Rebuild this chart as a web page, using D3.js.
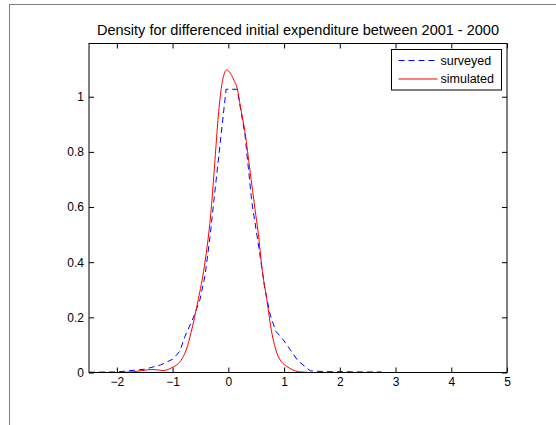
<!DOCTYPE html>
<html>
<head>
<meta charset="utf-8">
<script src="https://cdn.jsdelivr.net/npm/d3@7"></script>
<style>
  body { margin: 0; background: #fff; }
  text { font-family: "Liberation Sans", Arial, sans-serif; fill: #000; }
</style>
</head>
<body>
<script>
const W = 556, H = 425;
const margin = { left: 89, right: 49, top: 43.5, bottom: 52.5 };

const titleText = "Density for differenced initial expenditure between 2001 - 2000";
const xTicks = [-2, -1, 0, 1, 2, 3, 4, 5];
const yTicks = [0, 0.2, 0.4, 0.6, 0.8, 1];
const seriesNames = ["surveyed", "simulated"];

// surveyed (blue dashed)
const surveyedX = [-2.5, -2.0, -1.8, -1.5, -1.22, -1.0, -0.87, -0.78, -0.63, -0.51, -0.42, -0.33, -0.25, -0.04,
                   0.16, 0.3, 0.42, 0.55, 0.65, 0.75, 0.85, 1.0, 1.11, 1.25, 1.47, 1.75, 2.0, 2.4, 2.75];
const surveyedY = [0.001, 0.002, 0.006, 0.012, 0.027, 0.048, 0.077, 0.13, 0.198, 0.264, 0.349, 0.49, 0.64, 1.027,
                   1.027, 0.86, 0.62, 0.45, 0.31, 0.21, 0.15, 0.115, 0.083, 0.042, 0.006, 0.003, 0.003, 0.002, 0.002];

// simulated (red solid)
const simulatedX = [-1.97, -1.7, -1.5, -1.37, -1.25, -1.17, -1.05, -0.97, -0.9, -0.83, -0.75, -0.67, -0.54, -0.43,
                    -0.3, -0.24, -0.18, -0.12, -0.06, -0.03, 0.02, 0.1, 0.16, 0.22, 0.3, 0.39, 0.48, 0.54, 0.6,
                    0.69, 0.78, 0.87, 0.95, 1.05, 1.15, 1.26, 1.47];
const simulatedY = [0.0, 0.003, 0.008, 0.011, 0.009, 0.007, 0.014, 0.022, 0.032, 0.05, 0.085, 0.144, 0.264, 0.385,
                    0.61, 0.77, 0.93, 1.04, 1.09, 1.097, 1.09, 1.06, 1.03, 0.96, 0.87, 0.73, 0.59, 0.5, 0.385,
                    0.264, 0.144, 0.071, 0.04, 0.022, 0.01, 0.003, 0.0];

const svg = d3.select("body").append("svg").attr("width", W).attr("height", H);

// figure frame (partly outside the window)
svg.append("rect").attr("x", 9.5).attr("y", 4.5).attr("width", 700).attr("height", 600)
  .attr("fill", "none").attr("stroke", "#808080").attr("stroke-width", 1);

const pw = W - margin.left - margin.right, ph = H - margin.top - margin.bottom;
const x = d3.scaleLinear().domain([-2.5, 5]).range([margin.left, margin.left + pw]);
const y = d3.scaleLinear().domain([0, 1.193]).range([margin.top + ph, margin.top]);

const g = svg.append("g");

// curves
const line = (curve) => d3.line().x(d => x(d[0])).y(d => y(d[1])).curve(curve);
const surveyed = surveyedX.map((v, i) => [v, surveyedY[i]]);
const simulated = simulatedX.map((v, i) => [v, simulatedY[i]]);

g.append("path").datum(surveyed).attr("d", line(d3.curveLinear))
  .attr("fill", "none").attr("stroke", "#0000ff").attr("stroke-width", 1).attr("stroke-dasharray", "6,4");
g.append("path").datum(simulated).attr("d", line(d3.curveMonotoneX))
  .attr("fill", "none").attr("stroke", "#ff0000").attr("stroke-width", 1);

// axes box
const tickLen = 5;
g.append("rect").attr("x", x(-2.5)).attr("y", y(1.193)).attr("width", pw).attr("height", ph)
  .attr("fill", "none").attr("stroke", "#000").attr("stroke-width", 1);

const xb = d3.axisBottom(x).tickValues(xTicks).tickSize(-tickLen).tickPadding(5).tickFormat(d3.format("d"));
const xt = d3.axisTop(x).tickValues(xTicks).tickSize(-tickLen).tickFormat("");
const yl = d3.axisLeft(y).tickValues(yTicks).tickSize(-tickLen).tickPadding(5).tickFormat(d => d === 0 ? "0" : d === 1 ? "1" : d3.format(".1f")(d));
const yr = d3.axisRight(y).tickValues(yTicks).tickSize(-tickLen).tickFormat("");

[[xb, `translate(0,${margin.top + ph})`], [xt, `translate(0,${margin.top})`],
 [yl, `translate(${margin.left},0)`], [yr, `translate(${margin.left + pw},0)`]].forEach(([ax, tr]) => {
  const a = g.append("g").attr("transform", tr).call(ax);
  a.select(".domain").remove();
  a.selectAll("line").attr("stroke", "#000");
  a.selectAll("text").style("font-family", "'Liberation Sans', Arial, sans-serif").style("font-size", "12px").attr("fill", "#000");
});

// title
svg.append("text").attr("x", x(-2.5) + pw / 2).attr("y", 35).attr("text-anchor", "middle")
  .style("font-size", "14.5px").text(titleText);

// legend
const lg = svg.append("g").attr("transform", "translate(391.5,49.5)");
lg.append("rect").attr("width", 110).attr("height", 40.5).attr("fill", "#fff").attr("stroke", "#000").attr("stroke-width", 1);
const styles = [{ c: "#0000ff", dash: "6,4" }, { c: "#ff0000", dash: null }];
seriesNames.forEach((name, i) => {
  const yy = 11 + i * 18.5;
  lg.append("line").attr("x1", 7).attr("x2", 46).attr("y1", yy).attr("y2", yy)
    .attr("stroke", styles[i].c).attr("stroke-width", 1.2).attr("stroke-dasharray", styles[i].dash);
  lg.append("text").attr("x", 49).attr("y", yy + 4).style("font-size", "12.5px").text(name);
});
</script>
</body>
</html>
